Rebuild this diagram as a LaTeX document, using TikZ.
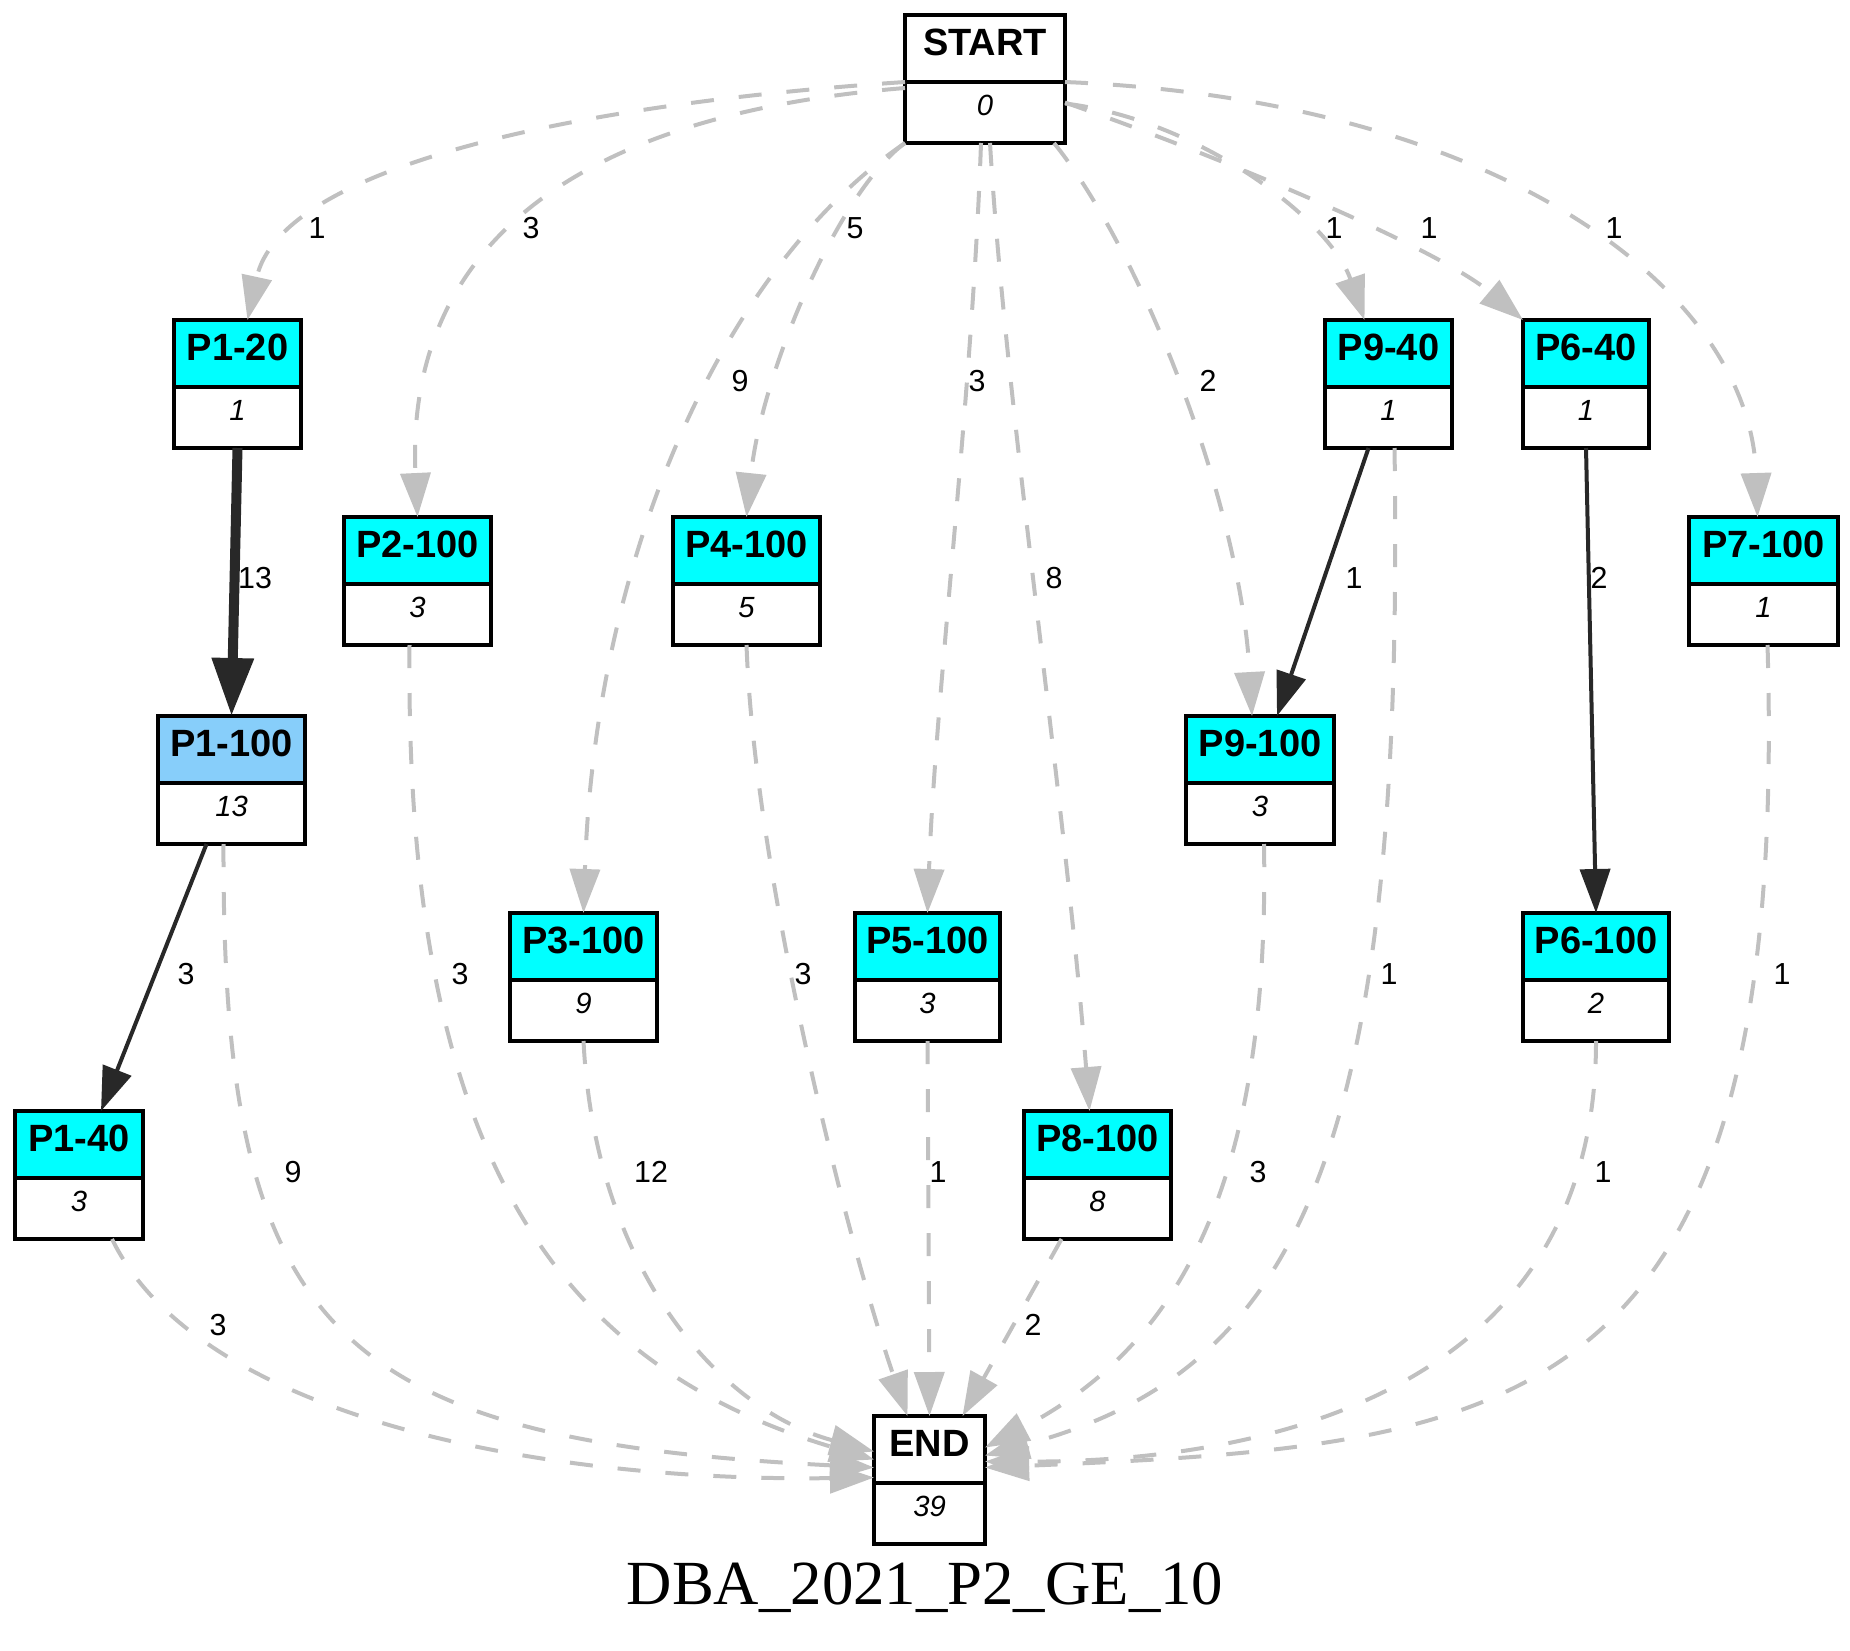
\documentclass[tikz,border=0pt]{standalone}
\usepackage{fontspec}
\setmainfont{Liberation Serif}
\setsansfont{Liberation Sans}
\usetikzlibrary{arrows.meta,positioning}

\begin{document}
\begin{tikzpicture}[x=0.25pt,y=-0.25pt,
  headbox/.style={draw=black,line width=0.8pt,inner sep=0pt,outer sep=0pt,minimum height=16.75pt,text height=6.8pt,text depth=3.4pt,font=\sffamily\bfseries\fontsize{9.5}{10}\selectfont},
  countbox/.style={draw=black,line width=0.8pt,fill=white,inner sep=0pt,outer sep=0pt,minimum height=15.25pt,text height=5.2pt,text depth=3.8pt,font=\sffamily\itshape\fontsize{7.3}{8}\selectfont},
  gedge/.style={draw=edgeGray,line width=1pt,dash pattern=on 5.75pt off 6.25pt,-{Triangle[length=11pt,width=7.5pt]}},
  sedge/.style={draw=edgeDark,line width=1pt,-{Triangle[length=11pt,width=7.5pt]}},
  elabel/.style={font=\sffamily\fontsize{7.6}{8}\selectfont,inner sep=0pt}]
\definecolor{boxCyan}{RGB}{0,255,255}
\definecolor{boxBlue}{RGB}{135,206,250}
\definecolor{edgeGray}{RGB}{192,192,192}
\definecolor{edgeDark}{RGB}{40,40,40}
\useasboundingbox (0,0) rectangle (1850,1650);
% state boxes: name, header centre, width, header colour, text, count
\foreach \id/\x/\y/\w/\hc/\txt/\cnt in {
  start/985/48.5/40/white/START/0,
  p1a/237.5/353.5/31.75/boxCyan/P1-20/1,
  p9a/1388.5/353.5/31.75/boxCyan/P9-40/1,
  p6a/1586/353.5/31.5/boxCyan/P6-40/1,
  p2/417.5/550.5/36.75/boxCyan/P2-100/3,
  p4/746.5/550.5/36.75/boxCyan/P4-100/5,
  p7/1763.5/550.5/37.25/boxCyan/P7-100/1,
  p1b/231.5/749.5/36.75/boxBlue/P1-100/13,
  p9b/1260/749.5/37/boxCyan/P9-100/3,
  p3/583.5/946.5/36.75/boxCyan/P3-100/9,
  p5/927.5/946.5/36.25/boxCyan/P5-100/3,
  p6b/1596/946.5/36.5/boxCyan/P6-100/2,
  p1c/79/1144.5/32/boxCyan/P1-40/3,
  p8/1097.5/1144.5/36.75/boxCyan/P8-100/8,
  stop/929.5/1449.5/27.75/white/END/39}
{
  \node[headbox,minimum width=\w pt,fill=\hc] (\id) at (\x,\y) {\txt};
  \node[countbox,minimum width=\w pt,below=0pt of \id] (\id-n) {\cnt};
}
% from START
\draw[gedge] (317,228) node[elabel] {1} (start.south west) .. controls (560,105) and (280,170) .. ([xshift=2.5pt]p1a.north);
\draw[gedge] (531,228) node[elabel] {3} ([yshift=-1.5pt]start.south west) .. controls (570,115) and (405,250) .. (p2.north);
\draw[gedge] (855,228) node[elabel] {5} (start-n.south west) .. controls (840,190) and (762,370) .. (p4.north);
\draw[gedge] (740,381) node[elabel] {9} (start-n.south west) .. controls (720,270) and (595,560) .. (p3.north);
\draw[gedge] (977,381) node[elabel] {3} ([xshift=-1pt]start-n.south) .. controls (972,400) and (935,700) .. (p5.north);
\draw[gedge] (1054,578) node[elabel] {8} ([xshift=1.25pt]start-n.south) .. controls (1005,400) and (1065,800) .. ([xshift=-2pt]p8.north);
\draw[gedge] (1208,381) node[elabel] {2} ([xshift=-2.75pt]start-n.south east) .. controls (1140,250) and (1240,500) .. ([xshift=-2pt]p9b.north);
\draw[gedge] (1334,228) node[elabel] {1} ([yshift=2.25pt]start-n.east) .. controls (1200,120) and (1330,220) .. ([xshift=-6pt]p9a.north);
\draw[gedge] (1429,228) node[elabel] {1} ([yshift=2.5pt]start-n.east) .. controls (1230,160) and (1440,250) .. (p6a.north west);
\draw[gedge] (1614,228) node[elabel] {1} (start.south east) .. controls (1500,100) and (1750,290) .. ([xshift=-1.5pt]p7.north);
% solid steps
\draw[sedge,line width=2.5pt,-{Triangle[length=14.5pt,width=10pt]}] (255,578) node[elabel] {13} (p1a-n.south) -- (p1b.north);
\draw[sedge] (186,974) node[elabel] {3} ([xshift=-6.25pt]p1b-n.south) -- ([xshift=5.5pt]p1c.north);
\draw[sedge] (1354,578) node[elabel] {1} ([xshift=-5pt]p9a-n.south) -- ([xshift=4.25pt]p9b.north);
\draw[sedge] (1599,578) node[elabel] {2} (p6a-n.south) -- (p6b.north);
% into END
\draw[gedge] (218,1325) node[elabel] {3} ([xshift=8.25pt]p1c-n.south) .. controls (200,1420) and (550,1482) .. ([yshift=-7pt]stop.west);
\draw[gedge] (293,1172) node[elabel] {9} ([xshift=-2pt]p1b-n.south) .. controls (222,1330) and (330,1440) .. ([yshift=-4.5pt]stop.west);
\draw[gedge] (460,974) node[elabel] {3} ([xshift=-2pt]p2-n.south) .. controls (405,1130) and (540,1360) .. ([yshift=-2.5pt]stop.west);
\draw[gedge] (651,1172) node[elabel] {12} (p3-n.south) .. controls (595,1270) and (720,1410) .. ([yshift=-0.5pt]stop.west);
\draw[gedge] (803,974) node[elabel] {3} (p4-n.south) .. controls (755,880) and (850,1250) .. ([xshift=-5.5pt]stop.north);
\draw[gedge] (938,1172) node[elabel] {1} (p5-n.south) -- (stop.north);
\draw[gedge] (1033,1325) node[elabel] {2} ([xshift=-9pt]p8-n.south) -- ([xshift=8.25pt]stop.north);
\draw[gedge] (1258,1172) node[elabel] {3} ([xshift=1pt]p9b-n.south) .. controls (1270,1200) and (1170,1350) .. ([yshift=0.5pt]stop.east);
\draw[gedge] (1389,974) node[elabel] {1} ([xshift=1.5pt]p9a-n.south) .. controls (1405,1150) and (1300,1370) .. ([yshift=-1.5pt]stop.east);
\draw[gedge] (1603,1172) node[elabel] {1} (p6b-n.south) .. controls (1596,1400) and (1250,1462) .. ([yshift=-3pt]stop.east);
\draw[gedge] (1782,974) node[elabel] {1} ([xshift=1pt]p7-n.south) .. controls (1790,1420) and (1520,1445) .. ([yshift=-4.5pt]stop.east);
\node[font=\fontsize{15.7}{18}\selectfont,anchor=base] (title) at (925,1604) {DBA\_2021\_P2\_GE\_10};
\end{tikzpicture}
\end{document}
